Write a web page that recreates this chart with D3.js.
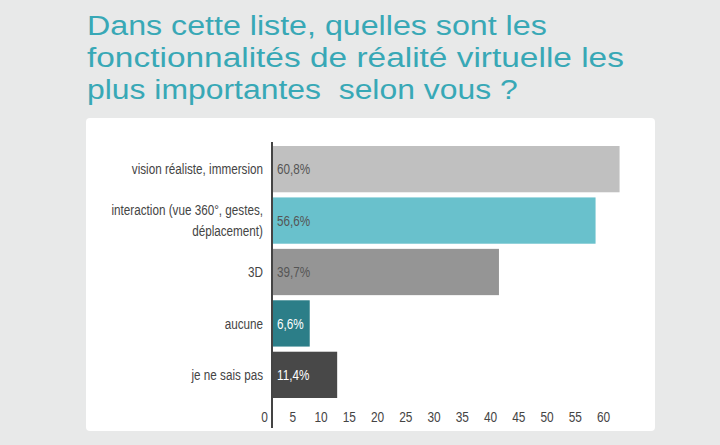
<!DOCTYPE html>
<html>
<head>
<meta charset="utf-8">
<script src="https://cdn.jsdelivr.net/npm/d3@7/dist/d3.min.js"></script>
<style>
  html, body { margin: 0; padding: 0; background: #e8e9e9; }
  svg { display: block; }
  text { font-family: "Liberation Sans", Arial, sans-serif; }
</style>
</head>
<body>
<svg id="chart" width="720" height="445"></svg>
<script>
const titleLines = ["Dans cette liste, quelles sont les", "fonctionnalités de réalité virtuelle les", "plus importantes  selon vous ?"];
const categories = [["vision réaliste, immersion"], ["interaction (vue 360°, gestes,", "déplacement)"], ["3D"], ["aucune"], ["je ne sais pas"]];
const values = [60.8, 56.6, 39.7, 6.6, 11.4];
const valueLabels = ["60,8%", "56,6%", "39,7%", "6,6%", "11,4%"];
const barColors = ["#c0c0c0", "#69c1cc", "#959595", "#2c7e88", "#484848"];
const labelColors = ["#555555", "#555555", "#555555", "#ffffff", "#ffffff"];
const tickValues = [0, 5, 10, 15, 20, 25, 30, 35, 40, 45, 50, 55, 60];

const FONT = "\"Liberation Sans\", Arial, sans-serif";
const NARROW = 0.78; // horizontal squeeze to mimic the narrow typeface of the reference

const svg = d3.select("#chart");
svg.append("rect").attr("width", 720).attr("height", 445).attr("fill", "#e8e9e9");

// Title (each line squeezed horizontally to the reference width)
const titleWidths = [460, 537, 431];
svg.append("g").selectAll("g").data(titleLines).join("g")
  .each(function(d, i) {
    const g = d3.select(this);
    const t = g.append("text").attr("x", 0).attr("y", 0)
      .attr("fill", "#38a8b6").attr("font-size", 28)
      .style("white-space", "pre").text(d);
    const w = t.node().getComputedTextLength();
    g.attr("transform", `translate(87,${35 + i * 32}) scale(${titleWidths[i] / w},1)`);
  });

// Panel
svg.append("rect").attr("x", 86).attr("y", 118).attr("width", 569).attr("height", 313)
  .attr("rx", 4).attr("fill", "#ffffff");

const idx = d3.range(values.length);
const x = d3.scaleLinear().domain([0, 60]).range([272, 615]);
const y = d3.scaleBand().domain(idx).range([146, 398]).paddingInner(0.1).paddingOuter(0);

// Bars
svg.append("g").selectAll("rect").data(idx).join("rect")
  .attr("x", x(0)).attr("y", i => y(i))
  .attr("width", i => x(values[i]) - x(0)).attr("height", y.bandwidth())
  .attr("fill", i => barColors[i]);

// Value labels
svg.append("g").selectAll("g").data(idx).join("g")
  .attr("transform", i => `translate(${x(0) + 5},${y(i) + y.bandwidth() / 2}) scale(${NARROW},1)`)
  .append("text")
  .attr("dy", "0.35em").attr("font-size", 15)
  .attr("fill", i => labelColors[i])
  .text(i => valueLabels[i]);

// Category labels
svg.append("g").selectAll("g").data(idx).join("g")
  .attr("transform", i => `translate(263,${y(i) + y.bandwidth() / 2}) scale(${NARROW},1)`)
  .each(function(i) {
    const lines = categories[i];
    const n = lines.length;
    d3.select(this).selectAll("text").data(lines).join("text")
      .attr("text-anchor", "end").attr("font-size", 15).attr("fill", "#444")
      .attr("x", 0)
      .attr("y", (d, j) => (j - (n - 1) / 2) * 21)
      .attr("dy", "0.35em")
      .text(d => d);
  });

// Vertical axis line
svg.append("line").attr("x1", x(0)).attr("x2", x(0)).attr("y1", 142).attr("y2", 428)
  .attr("stroke", "#444").attr("stroke-width", 2);

// Bottom axis labels
const xt = d3.scaleLinear().domain([0, 60]).range([264, 603]);
const axis = svg.append("g").attr("transform", "translate(0,412)")
  .call(d3.axisBottom(xt).tickValues(tickValues).tickSize(0).tickPadding(0).tickFormat(d3.format("d")));
axis.select(".domain").remove();
axis.selectAll(".tick text").attr("font-size", 14).attr("fill", "#444").style("font-family", FONT)
  .attr("transform", "scale(0.85,1)");
</script>
</body>
</html>
